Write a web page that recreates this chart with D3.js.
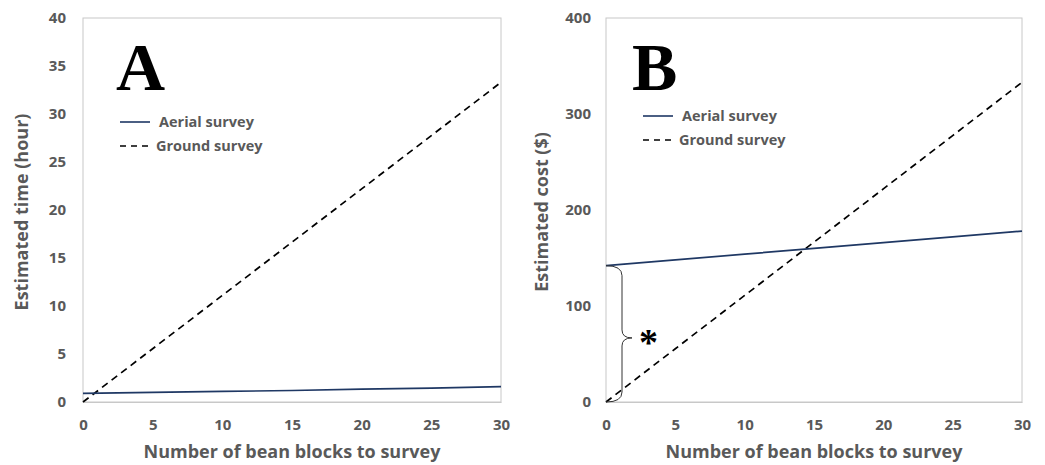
<!DOCTYPE html>
<html>
<head>
<meta charset="utf-8">
<script src="https://cdn.jsdelivr.net/npm/d3@7"></script>
<style>
  body { margin: 0; background: #fff; }
  svg text { font-family: "Open Sans", "Liberation Sans", sans-serif; font-weight: bold; fill: #595959; }
</style>
</head>
<body>
<div id="chart"></div>
<script>
const blocks = [0, 5, 10, 15, 20, 25, 30];

// panel A: estimated time (hour)
const time_aerial = [0.9, 1.0, 1.1, 1.2, 1.35, 1.45, 1.6];
const time_ground = [0, 5.55, 11.1, 16.65, 22.2, 27.75, 33.3];

// panel B: estimated cost ($)
const cost_aerial = [142, 148, 154, 160, 166, 172, 178];
const cost_ground = [0, 55.5, 111, 166.5, 222, 277.5, 333];

const x_ticks = [0, 5, 10, 15, 20, 25, 30];
const time_ticks = [0, 5, 10, 15, 20, 25, 30, 35, 40];
const cost_ticks = [0, 100, 200, 300, 400];

const series_names = ["Aerial survey", "Ground survey"];

const width = 1045;
const height = 465;

const svg = d3.select("#chart")
  .append("svg")
  .attr("width", width)
  .attr("height", height);

const draw_panel = (opts) => {
  const x = d3.scaleLinear().domain([0, 30]).range([opts.left, opts.right]);
  const y = d3.scaleLinear().domain([0, opts.ymax]).range([402, 18]);

  const g = svg.append("g");

  // plot frame
  g.append("rect")
    .attr("x", opts.left)
    .attr("y", 18)
    .attr("width", opts.right - opts.left)
    .attr("height", 402 - 18)
    .attr("fill", "none")
    .attr("stroke", "#c8c8c8")
    .attr("stroke-width", 1);

  // axes, labels only
  const xaxis = g.append("g")
    .attr("transform", `translate(0, 402)`)
    .call(d3.axisBottom(x).tickValues(x_ticks).tickSize(0).tickPadding(17));
  xaxis.select(".domain").attr("stroke", "#c8c8c8");
  xaxis.selectAll("text").style("font-size", "15px").attr("fill", "#595959");

  const yaxis = g.append("g")
    .attr("transform", `translate(${opts.left}, 0)`)
    .call(d3.axisLeft(y).tickValues(opts.ticks).tickSize(0).tickPadding(opts.tickpad));
  yaxis.select(".domain").remove();
  yaxis.selectAll("text").style("font-size", "15px").attr("fill", "#595959");

  // axis titles
  g.append("text")
    .attr("x", (opts.left + opts.right) / 2)
    .attr("y", 458)
    .attr("text-anchor", "middle")
    .style("font-size", "18px")
    .text("Number of bean blocks to survey");

  g.append("text")
    .attr("transform", `translate(${opts.ytitle_x}, 212) rotate(-90)`)
    .attr("text-anchor", "middle")
    .style("font-size", "18px")
    .text(opts.ytitle);

  const line = d3.line()
    .x((d, i) => x(blocks[i]))
    .y((d) => y(d));

  g.append("path")
    .datum(opts.ground)
    .attr("d", line)
    .attr("fill", "none")
    .attr("stroke", "#000")
    .attr("stroke-width", 1.7)
    .attr("stroke-dasharray", "7,5");

  g.append("path")
    .datum(opts.aerial)
    .attr("d", line)
    .attr("fill", "none")
    .attr("stroke", "#1f3864")
    .attr("stroke-width", 1.7);

  // big panel letter
  g.append("text")
    .attr("x", opts.letter_x)
    .attr("y", 90)
    .style("font-family", "'Liberation Serif', 'DejaVu Serif', serif")
    .style("font-size", "68px")
    .style("fill", "#000")
    .text(opts.letter);

  // legend
  const lg = opts.legend;
  g.append("line")
    .attr("x1", lg.x).attr("x2", lg.x + 30)
    .attr("y1", lg.y).attr("y2", lg.y)
    .attr("stroke", "#1f3864").attr("stroke-width", 1.6);
  g.append("text")
    .attr("x", lg.x + 39)
    .attr("y", lg.y)
    .attr("dy", "0.35em")
    .style("font-size", "14.5px")
    .text(series_names[0]);

  g.append("line")
    .attr("x1", lg.x).attr("x2", lg.x + 33)
    .attr("y1", lg.y + 24).attr("y2", lg.y + 24)
    .attr("stroke", "#000").attr("stroke-width", 1.6)
    .attr("stroke-dasharray", "6,5");
  g.append("text")
    .attr("x", lg.x + 36)
    .attr("y", lg.y + 24)
    .attr("dy", "0.35em")
    .style("font-size", "14.5px")
    .text(series_names[1]);

  return { x, y, g };
};

draw_panel({
  left: 83, right: 501, ymax: 40, ticks: time_ticks, tickpad: 17,
  ytitle: "Estimated time (hour)", ytitle_x: 28,
  aerial: time_aerial, ground: time_ground,
  letter: "A", letter_x: 116,
  legend: { x: 120, y: 122 }
});

const pb = draw_panel({
  left: 606, right: 1022, ymax: 400, ticks: cost_ticks, tickpad: 15,
  ytitle: "Estimated cost ($)", ytitle_x: 548,
  aerial: cost_aerial, ground: cost_ground,
  letter: "B", letter_x: 632,
  legend: { x: 643, y: 116 }
});

// curly brace between the two lines at zero blocks
const top_y = pb.y(cost_aerial[0]);
const bot_y = pb.y(0);
const mid_y = pb.y(cost_aerial[0] * 0.47);
const bx = pb.x(0) + 16;
const x0 = pb.x(0);
const brace = d3.path();
brace.moveTo(x0, top_y);
brace.quadraticCurveTo(bx, top_y, bx, top_y + 10);
brace.lineTo(bx, mid_y - 8);
brace.quadraticCurveTo(bx, mid_y, bx + 10, mid_y);
brace.quadraticCurveTo(bx, mid_y, bx, mid_y + 8);
brace.lineTo(bx, bot_y - 10);
brace.quadraticCurveTo(bx, bot_y, x0, bot_y);
pb.g.append("path")
  .attr("d", brace.toString())
  .attr("fill", "none")
  .attr("stroke", "#333")
  .attr("stroke-width", 1);

pb.g.append("text")
  .attr("x", bx + 17)
  .attr("y", mid_y + 17)
  .style("font-family", "'Liberation Serif', serif")
  .style("font-size", "38px")
  .style("font-weight", "bold")
  .style("fill", "#000")
  .text("*");
</script>
</body>
</html>
